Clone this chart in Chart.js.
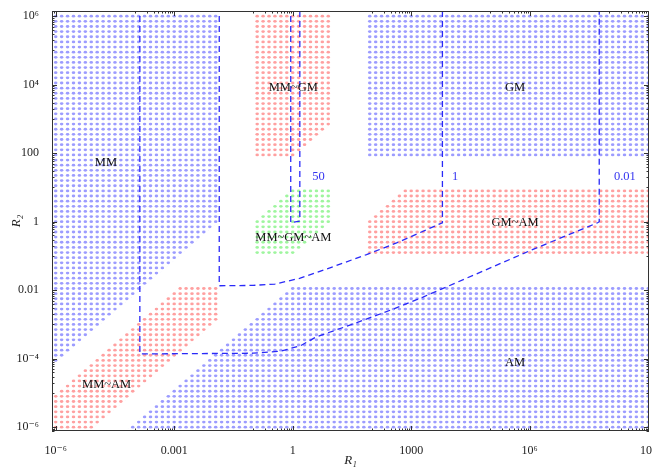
<!DOCTYPE html>
<html><head><meta charset="utf-8">
<script src="https://cdn.jsdelivr.net/npm/chart.js@4.4.1/dist/chart.umd.min.js"></script>
<style>html,body{margin:0;padding:0;background:#fff}</style>
</head><body>
<canvas id="c" width="652" height="467"></canvas>
<script>
/* ===== 資料（log10 R1 / log10 R2） ===== */
const X_LO = -6.094, X_HI = 9.02, Y_LO = -6.111, Y_HI = 6.152;

const xTicks = [1e-6, 1e-3, 1, 1e3, 1e6, 1e9];
const xTickLabels = ['10⁻⁶', '0.001', '1', '1000', '10⁶', '10⁹'];
const yTicks = [1e-6, 1e-4, 1e-2, 1, 100, 1e4, 1e6];
const yTickLabels = ['10⁻⁶', '10⁻⁴', '0.01', '1', '100', '10⁴', '10⁶'];

// regions (polygon corners, log10)
const mmX   = [-6.2, -1.875, -1.875, -6.2];
const mmY   = [ 6.3,  6.3,    0.0,  -4.325];
const gmX   = [1.875, 9.2, 9.2, 1.875];
const gmY   = [1.875, 1.875, 6.3, 6.3];
const amX   = [0, 9.2, 9.2, -4.325];
const amY   = [-1.875, -1.875, -6.2, -6.2];
const mmgmX = [-0.975, 0.975, 0.975, 0, -0.975];
const mmgmY = [ 6.3,   6.3,   2.85, 1.875, 1.875];
const mmamX = [-2.85, -1.875, -1.875, -5.225, -6.2, -6.2];
const mmamY = [-1.875, -1.875, -2.85, -6.2, -6.2, -5.225];
const gmamX = [1.875, 2.85, 9.2, 9.2, 1.875];
const gmamY = [0, 0.975, 0.975, -0.975, -0.975];
const allX  = [0, 0.975, 0.975, 0, -0.975, -0.975];
const allY  = [0.975, 0.975, 0, -0.975, -0.975, 0];

// dashed contours
const c001X = [-3.87, -3.87, -2.3, -1.0, -0.3, 0.2, 0.6, 1.5, 2.5, 3.3, 4.8, 6.1, 7.72, 7.76, 7.76];
const c001Y = [ 6.3, -3.86, -3.85, -3.84, -3.78, -3.62, -3.36, -3.0, -2.57, -2.2, -1.45, -0.8, -0.03, 0.0, 6.3];
const c1X   = [-1.86, -1.86, -1.0, -0.45, 0.19, 1.03, 1.87, 2.63, 3.79, 3.79];
const c1Y   = [ 6.3, -1.87, -1.86, -1.82, -1.65, -1.31, -0.96, -0.62, -0.03, 6.3];
const c50X  = [-0.05, -0.05, 0.18, 0.18];
const c50Y  = [ 6.3, -0.03, 0.02, 6.3];

// labels
const regionNames = ['MM', 'MM~GM', 'GM', 'MM~GM~AM', 'GM~AM', 'MM~AM', 'AM'];
const regionLX    = [-4.73, 0.015, 5.63, 0.015, 5.63, -4.71, 5.63];
const regionLY    = [ 1.72, 3.9,   3.9, -0.46, -0.02, -4.77, -4.12];
const contourNames = ['50', '1', '0.01'];
const contourLX    = [0.65, 4.11, 8.41];
const contourLY    = [1.31, 1.30, 1.30];

/* ===== 工具 ===== */
const pts = (xs, ys) => xs.map((v, i) => ({x: 10 ** v, y: 10 ** ys[i]}));
const SERIF = '"Liberation Serif","DejaVu Serif",serif';
const BLUE = '#9c9cff', RED = '#ffa0a0', GREEN = '#9ef59e', LINE = '#2a2af8';

const patCache = {};
function dots(color){
  return c => {
    const ch = c.chart, x = ch.scales.x, y = ch.scales.y;
    if(!x || !y) return color;
    const key = color + '|' + x.left + '|' + x.right + '|' + y.top + '|' + y.bottom;
    if(patCache[key]) return patCache[key];
    const cv = document.createElement('canvas');
    cv.width = ch.width; cv.height = ch.height;
    const g = cv.getContext('2d');
    g.fillStyle = color;
    for(let i = 0; i <= 100; i++){
      const px = x.getPixelForValue(10 ** (-6 + 0.15 * i));
      for(let j = 0; j <= 80; j++){
        const py = y.getPixelForValue(10 ** (-6 + 0.15 * j));
        g.beginPath(); g.ellipse(px, py, 1.75, 1.4, 0, 0, Math.PI * 2); g.fill();
      }
    }
    return patCache[key] = ch.ctx.createPattern(cv, 'no-repeat');
  };
}

const region = (xs, ys, color) => ({
  data: pts(xs, ys), showLine: true, fill: 'shape', tension: 0,
  borderWidth: 0, borderColor: 'rgba(0,0,0,0)', pointRadius: 0,
  backgroundColor: dots(color), order: 2
});
const contour = (xs, ys) => ({
  data: pts(xs, ys), showLine: true, fill: false, tension: 0,
  borderWidth: 1.3, borderColor: LINE, borderDash: [6, 4], pointRadius: 0, order: 0
});

/* ===== 框線、刻度、文字 ===== */
const frameTicks = {
  id: 'frameTicks',
  afterDatasetsDraw(chart){
    const {ctx, chartArea: a, scales: {x, y}} = chart;
    ctx.save();
    ctx.strokeStyle = '#333'; ctx.lineWidth = 1;
    ctx.strokeRect(a.left + 0.5, a.top + 0.5, a.right - a.left - 1, a.bottom - a.top - 1);
    const minors = m => [0.1,0.2,0.3,0.4,0.5,0.6,0.7,0.8,0.9].map(k => k * m);
    const inX = v => v >= 10 ** X_LO && v <= 10 ** X_HI, inY = v => v >= 10 ** Y_LO && v <= 10 ** Y_HI;
    ctx.beginPath();
    const xt = (v, len) => { const p = Math.round(x.getPixelForValue(v)) + 0.5;
      ctx.moveTo(p, a.bottom); ctx.lineTo(p, a.bottom - len); ctx.moveTo(p, a.top); ctx.lineTo(p, a.top + len); };
    const yt = (v, len) => { const p = Math.round(y.getPixelForValue(v)) + 0.5;
      ctx.moveTo(a.left, p); ctx.lineTo(a.left + len, p); ctx.moveTo(a.right, p); ctx.lineTo(a.right - len, p); };
    xTicks.forEach(m => { xt(m, 5); minors(m).filter(inX).forEach(v => xt(v, 2.5)); });
    yTicks.forEach(m => { yt(m, 5); minors(m).filter(inY).forEach(v => yt(v, 2.5)); });
    ctx.stroke();

    ctx.textAlign = 'center'; ctx.textBaseline = 'middle';
    ctx.font = '12.5px ' + SERIF; ctx.fillStyle = '#111';
    regionNames.forEach((t, i) => ctx.fillText(t, x.getPixelForValue(10 ** regionLX[i]), y.getPixelForValue(10 ** regionLY[i])));
    ctx.font = '12.5px ' + SERIF; ctx.fillStyle = '#3535f0';
    contourNames.forEach((t, i) => ctx.fillText(t, x.getPixelForValue(10 ** contourLX[i]), y.getPixelForValue(10 ** contourLY[i])));
    ctx.restore();
  }
};

new Chart(document.getElementById('c'), {
  type: 'scatter',
  data: { datasets: [
    contour(c50X, c50Y), contour(c1X, c1Y), contour(c001X, c001Y),
    region(mmX, mmY, BLUE), region(gmX, gmY, BLUE), region(amX, amY, BLUE),
    region(mmgmX, mmgmY, RED), region(mmamX, mmamY, RED), region(gmamX, gmamY, RED),
    region(allX, allY, GREEN)
  ]},
  options: {
    responsive: false, animation: false, devicePixelRatio: 1,
    layout: {padding: {top: 11, right: 3, left: 0, bottom: 0}},
    plugins: {legend: {display: false}, tooltip: {enabled: false}},
    scales: {
      x: {type: 'logarithmic', min: 10 ** X_LO, max: 10 ** X_HI,
        grid: {display: false}, border: {display: false},
        afterBuildTicks: s => { s.ticks = xTicks.map(v => ({value: v})); },
        afterFit: s => { s.height = 36; s.paddingLeft = 0; s.paddingRight = 0; },
        ticks: {autoSkip: false, maxRotation: 0, padding: 5, color: '#222',
          font: {family: SERIF, size: 12}, callback: (v, i) => xTickLabels[i]},
        title: {display: true, text: 'R₁', color: '#222', padding: 0,
          font: {family: SERIF, size: 13, style: 'italic', lineHeight: 1}}
      },
      y: {type: 'logarithmic', min: 10 ** Y_LO, max: 10 ** Y_HI,
        grid: {display: false}, border: {display: false},
        afterBuildTicks: s => { s.ticks = yTicks.map(v => ({value: v})); },
        afterFit: s => { s.width = 52; s.paddingTop = 0; s.paddingBottom = 0; },
        ticks: {autoSkip: false, padding: 5, color: '#222',
          font: {family: SERIF, size: 12}, callback: (v, i) => yTickLabels[i]},
        title: {display: true, text: 'R₂', color: '#222', padding: {top: 10, bottom: 0},
          font: {family: SERIF, size: 13, style: 'italic', lineHeight: 1}}
      }
    }
  },
  plugins: [frameTicks]
});
</script>
</body></html>
